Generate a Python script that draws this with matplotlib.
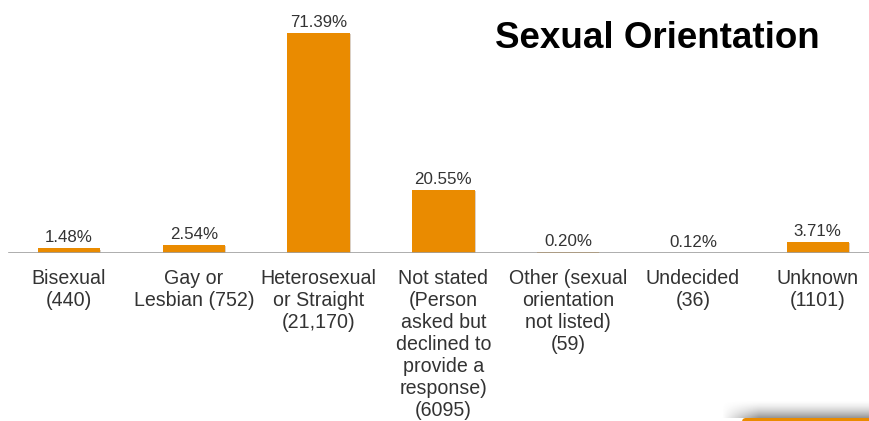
import matplotlib
matplotlib.use("Agg")
import matplotlib.pyplot as plt
import numpy as np
from matplotlib import transforms
from matplotlib.patches import FancyBboxPatch

plt.rcParams['font.family'] = ['Liberation Sans', 'DejaVu Sans']

categories = [
    "Bisexual\n(440)",
    "Gay or\nLesbian (752)",
    "Heterosexual\nor Straight\n(21,170)",
    "Not stated\n(Person\nasked but\ndeclined to\nprovide a\nresponse)\n(6095)",
    "Other (sexual\norientation\nnot listed)\n(59)",
    "Undecided\n(36)",
    "Unknown\n(1101)",
]
percentages = [1.48, 2.54, 71.39, 20.55, 0.20, 0.12, 3.71]
value_labels = ["1.48%", "2.54%", "71.39%", "20.55%", "0.20%", "0.12%", "3.71%"]

W, H = 869, 421
fig = plt.figure(figsize=(W / 100, H / 100), dpi=100)
fig.patch.set_facecolor("white")

base_px = 253          # baseline, pixels from top
ax = fig.add_axes([0, (H - base_px) / H, 1, base_px / H])
ax.set_axis_off()

px_per_cat = 124.8
first_center = 69
ax.set_xlim(-first_center / px_per_cat, (W - first_center) / px_per_cat)
ax.set_ylim(0, base_px / (220 / 71.39))

x = np.arange(len(categories))
bar_color = "#EA8B00"

# soft shadow behind each bar
shadow_off = transforms.offset_copy(ax.transData, fig=fig, x=1.2, y=-1.2, units="dots")
ax.bar(x, percentages, width=0.5, color="#9a7a5a", alpha=0.35, transform=shadow_off, zorder=1)
ax.bar(x, percentages, width=0.5, color=bar_color, zorder=2)

# baseline
ax.axhline(0, xmin=9 / W, xmax=1, color="#a0a0a0", lw=1.2, zorder=3)

# value labels
lab_off = transforms.offset_copy(ax.transData, fig=fig, x=0, y=6, units="dots")
for xi, p, t in zip(x, percentages, value_labels):
    ax.text(xi, p, t, ha="center", va="baseline", fontsize=12.2,
            color="#333333", transform=lab_off)

# category labels below the baseline
cat_off = transforms.offset_copy(ax.transData, fig=fig, x=0, y=-16, units="dots")
for xi, c in zip(x, categories):
    ax.text(xi, 0, c, ha="center", va="top", fontsize=14.1, color="#333333",
            linespacing=1.20, transform=cat_off)

# title
fig.text(495 / W, 1 - 39 / H, "Sexual Orientation", fontsize=26.5,
         fontweight="bold", color="black", ha="left", va="center")

# decorative tab at lower right with a soft shadow
deco = fig.add_axes([0, 0, 1, 1])
deco.set_xlim(0, W)
deco.set_ylim(H, 0)
deco.set_axis_off()
grad = np.linspace(0, 1, 40)[:, None] * np.ones((1, 200))
rgba = np.zeros((40, 200, 4))
rgba[..., :3] = 0.45
xs = np.linspace(0, 1, 200)[None, :]
edge = np.clip(xs / 0.25, 0, 1)
rgba[..., 3] = (grad ** 1.6) * edge * 0.75
deco.imshow(rgba, extent=(722, W, 418, 400), aspect="auto", interpolation="bilinear", zorder=1)
deco.add_patch(FancyBboxPatch((742, 418), W - 742 + 10, 10,
                              boxstyle="round,pad=0,rounding_size=4",
                              facecolor=bar_color, edgecolor="none", zorder=2))

fig.savefig("out.png", dpi=100, facecolor="white")
